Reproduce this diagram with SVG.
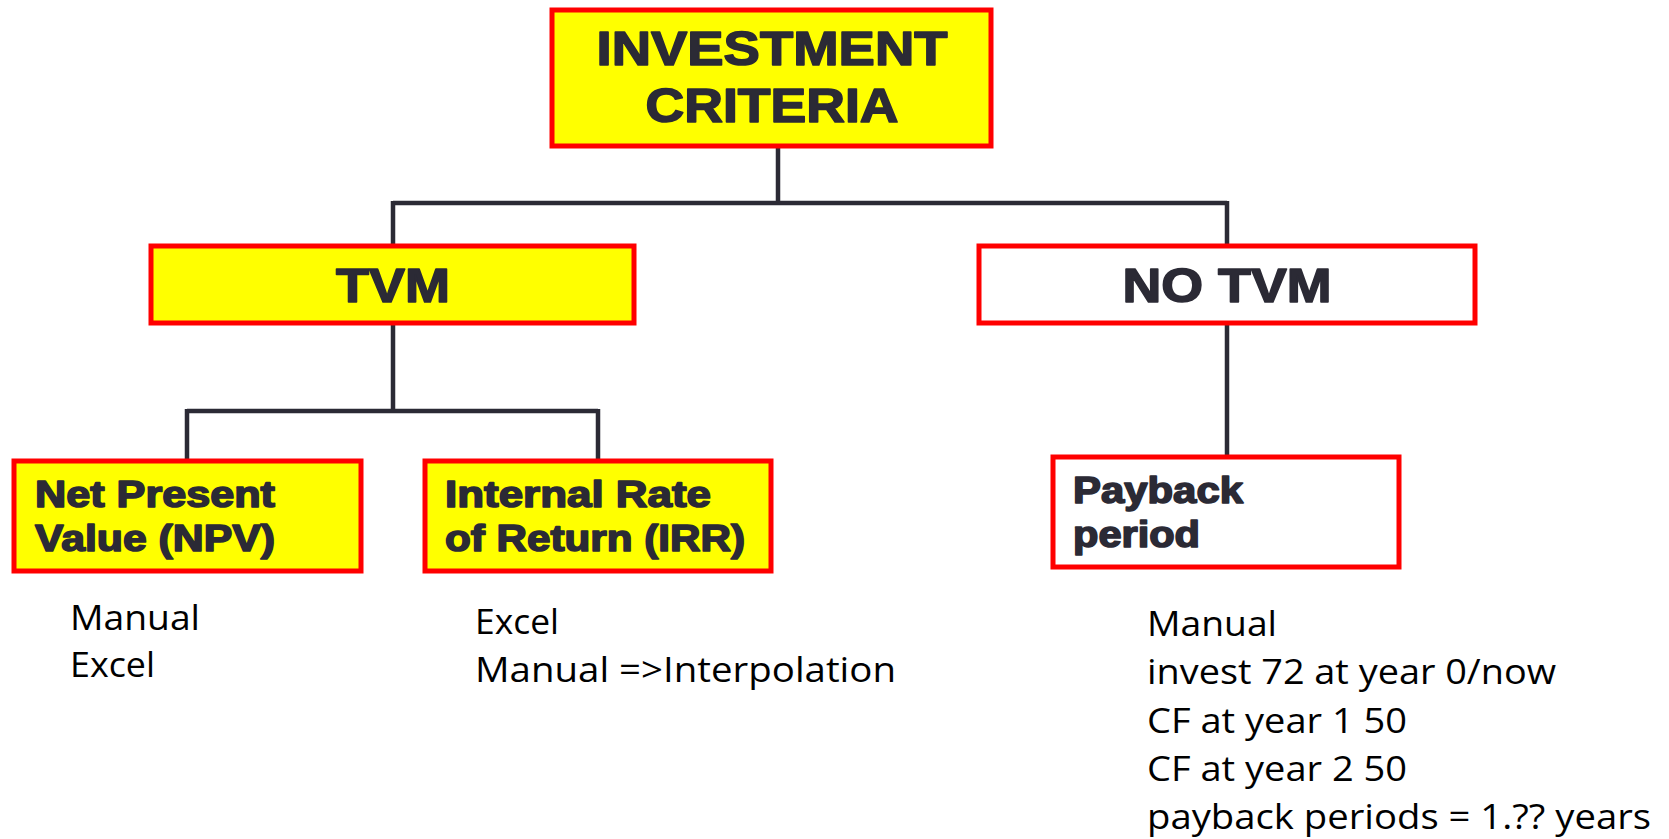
<svg xmlns="http://www.w3.org/2000/svg" width="1669" height="839" viewBox="0 0 1669 839">
<style>
.box{stroke:#FF0000;stroke-width:5}
.y{fill:#FFFF00}
.w{fill:#FFFFFF}
.conn{stroke:#2B2A35;stroke-width:4.5;fill:none}
.b{font-family:"Liberation Sans",Arial,sans-serif;font-weight:bold;fill:#2B2A35;stroke:#2B2A35;stroke-width:1.6;stroke-linejoin:round}
.t{font-family:"Open Sans","Noto Sans",sans-serif;fill:#000000;font-size:34px}
</style>
<rect width="1669" height="839" fill="#FFFFFF"/>
<g id="connectors">
<path class="conn" d="M778 147 V203 M393 203 H1227 M393 201 V245 M1227 201 V245"/>
<path class="conn" d="M393 324 V411 M187 411 H598 M187 409 V460 M598 409 V460"/>
<path class="conn" d="M1227 324 V456"/>
</g>
<g id="investment-criteria">
<rect class="box y" x="552" y="10" width="439" height="136"/>
<text class="b" x="772" y="65" font-size="49" text-anchor="middle" textLength="351" lengthAdjust="spacingAndGlyphs">INVESTMENT</text>
<text class="b" x="772" y="122" font-size="49" text-anchor="middle" textLength="253" lengthAdjust="spacingAndGlyphs">CRITERIA</text>
</g>
<g id="tvm">
<rect class="box y" x="151" y="246" width="483" height="77"/>
<text class="b" x="393" y="302" font-size="49" text-anchor="middle" textLength="114" lengthAdjust="spacingAndGlyphs">TVM</text>
</g>
<g id="no-tvm">
<rect class="box w" x="979" y="246" width="496" height="77"/>
<text class="b" x="1227" y="302" font-size="49" text-anchor="middle" textLength="209" lengthAdjust="spacingAndGlyphs">NO TVM</text>
</g>
<g id="npv">
<rect class="box y" x="14" y="461" width="347" height="110"/>
<text class="b" x="35" y="507" font-size="36" textLength="240" lengthAdjust="spacingAndGlyphs">Net Present</text>
<text class="b" x="35" y="551" font-size="36" textLength="240" lengthAdjust="spacingAndGlyphs">Value (NPV)</text>
</g>
<g id="irr">
<rect class="box y" x="425" y="461" width="346" height="110"/>
<text class="b" x="445" y="507" font-size="36" textLength="266" lengthAdjust="spacingAndGlyphs">Internal Rate</text>
<text class="b" x="445" y="551" font-size="36" textLength="300" lengthAdjust="spacingAndGlyphs">of Return (IRR)</text>
</g>
<g id="payback">
<rect class="box w" x="1053" y="457" width="346" height="110"/>
<text class="b" x="1073" y="503" font-size="36" textLength="170" lengthAdjust="spacingAndGlyphs">Payback</text>
<text class="b" x="1073" y="547" font-size="36" textLength="127" lengthAdjust="spacingAndGlyphs">period</text>
</g>
<g id="notes">
<text class="t" x="70" y="630" textLength="130" lengthAdjust="spacingAndGlyphs">Manual</text>
<text class="t" x="70" y="677" textLength="85" lengthAdjust="spacingAndGlyphs">Excel</text>
<text class="t" x="475" y="634" textLength="84" lengthAdjust="spacingAndGlyphs">Excel</text>
<text class="t" x="475" y="682" textLength="421" lengthAdjust="spacingAndGlyphs">Manual =&gt;Interpolation</text>
<text class="t" x="1147" y="636" textLength="130" lengthAdjust="spacingAndGlyphs">Manual</text>
<text class="t" x="1147" y="684" textLength="409" lengthAdjust="spacingAndGlyphs">invest 72 at year 0/now</text>
<text class="t" x="1147" y="733" textLength="260" lengthAdjust="spacingAndGlyphs">CF at year 1 50</text>
<text class="t" x="1147" y="781" textLength="260" lengthAdjust="spacingAndGlyphs">CF at year 2 50</text>
<text class="t" x="1147" y="829" textLength="504" lengthAdjust="spacingAndGlyphs">payback periods = 1.?? years</text>
</g>
</svg>
